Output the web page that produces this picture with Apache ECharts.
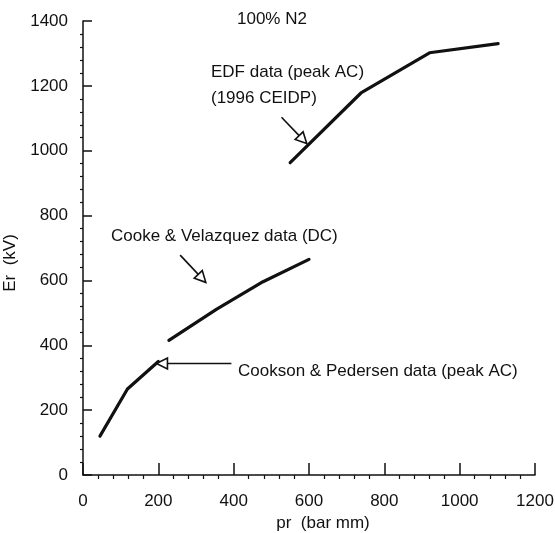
<!DOCTYPE html>
<html>
<head>
<meta charset="utf-8">
<script src="https://cdn.jsdelivr.net/npm/echarts@6/dist/echarts.min.js"></script>
<style>
  html, body { margin: 0; padding: 0; background: #fff; }
  #chart { width: 555px; height: 533px; }
</style>
</head>
<body>
<div id="chart"></div>
<script>
// Breakdown field Er versus pr in pure nitrogen, three data sources
const cooksonPedersen = [[45, 120], [118, 265], [200, 350]];
const cookeVelazquez = [[228, 415], [354, 511], [478, 596], [600, 665]];
const edfData = [[550, 963], [738, 1178], [920, 1302], [1102, 1330]];

const xTicks = { min: 0, max: 1200, interval: 200 };
const yTicks = { min: 0, max: 1400, interval: 200 };

// Arrow callouts in data units: [tail, tip]
const cooksonArrow = [[394, 344], [195, 344]];
const cookeArrow = [[258, 678], [326, 594]];
const edfArrow = [[527, 1103], [594, 1022]];

const FONT = 'Liberation Sans, Arial, Helvetica, sans-serif';
const INK = '#111';
const plain = v => String(v);

const chart = echarts.init(document.getElementById('chart'), null, { renderer: 'canvas' });

const lineSeries = (name, data) => ({
  name, type: 'line', data,
  xAxisIndex: 0, yAxisIndex: 0,
  symbol: 'none', smooth: false,
  lineStyle: { color: INK, width: 3.2, cap: 'round', join: 'round' },
  silent: true, animation: false
});

chart.setOption({
  animation: false,
  backgroundColor: '#fff',
  grid: { left: 83, right: 20, top: 21, bottom: 58, containLabel: false, outerBoundsMode: 'none' },
  xAxis: [
    {
      type: 'value', min: xTicks.min, max: xTicks.max, interval: xTicks.interval,
      name: 'pr  (bar mm)', nameLocation: 'middle', nameGap: 38,
      nameTextStyle: { fontFamily: FONT, fontSize: 17, color: INK, padding: [0, 0, 0, 28] },
      axisLine: { show: true, lineStyle: { color: INK, width: 1.5 } },
      axisTick: { show: true, inside: true, length: 12, lineStyle: { color: INK, width: 1.5 } },
      axisLabel: { fontFamily: FONT, fontSize: 17, color: INK, margin: 18, formatter: plain },
      splitLine: { show: false }
    },
    {
      type: 'value', min: xTicks.min, max: xTicks.max, interval: xTicks.interval,
      position: 'bottom',
      axisLine: { show: false },
      axisTick: { show: false },
      minorTick: { show: true, splitNumber: 5, length: 4, lineStyle: { color: INK, width: 1.2 } },
      axisLabel: { show: false },
      splitLine: { show: false }
    }
  ],
  yAxis: [
    {
      type: 'value', min: yTicks.min, max: yTicks.max, interval: yTicks.interval,
      name: 'Er  (kV)', nameLocation: 'middle', nameGap: 61, nameRotate: 90,
      nameTextStyle: { fontFamily: FONT, fontSize: 17, color: INK, padding: [0, 30, 0, 0] },
      axisLine: { show: true, lineStyle: { color: INK, width: 1.5 } },
      axisTick: { show: true, inside: true, length: 9, lineStyle: { color: INK, width: 1.5 } },
      axisLabel: { fontFamily: FONT, fontSize: 17, color: INK, margin: 15, formatter: plain },
      splitLine: { show: false }
    },
    {
      type: 'value', min: yTicks.min, max: yTicks.max, interval: yTicks.interval,
      position: 'left',
      axisLine: { show: false },
      axisTick: { show: false },
      minorTick: { show: true, splitNumber: 5, length: 3, lineStyle: { color: INK, width: 1.2 } },
      axisLabel: { show: false },
      splitLine: { show: false }
    }
  ],
  series: [
    lineSeries('Cookson & Pedersen', cooksonPedersen),
    lineSeries('Cooke & Velazquez', cookeVelazquez),
    lineSeries('EDF', edfData)
  ]
});

// Open-headed arrow from tail to tip, both given in data units
function arrow(pair) {
  const t = chart.convertToPixel({ seriesIndex: 0 }, pair[0]);
  const p = chart.convertToPixel({ seriesIndex: 0 }, pair[1]);
  const dx = p[0] - t[0], dy = p[1] - t[1];
  const len = Math.hypot(dx, dy);
  const ux = dx / len, uy = dy / len;
  const nx = -uy, ny = ux;
  const headLen = 11, halfW = 5.5;
  const bx = p[0] - ux * headLen, by = p[1] - uy * headLen;
  return [
    {
      type: 'line', silent: true,
      shape: { x1: t[0], y1: t[1], x2: bx, y2: by },
      style: { stroke: INK, lineWidth: 1.6 }
    },
    {
      type: 'polygon', silent: true,
      shape: { points: [[p[0], p[1]], [bx + nx * halfW, by + ny * halfW], [bx - nx * halfW, by - ny * halfW]] },
      style: { fill: '#fff', stroke: INK, lineWidth: 1.6, lineJoin: 'miter' }
    }
  ];
}

function label(text, x, y) {
  return {
    type: 'text', silent: true, left: x, top: y - 9,
    style: { text, fontFamily: FONT, fontSize: 17, fill: INK }
  };
}

chart.setOption({
  graphic: [
    label('100% N2', 237, 20),
    label('EDF data (peak AC)', 211, 73),
    label('(1996 CEIDP)', 211, 99),
    label('Cooke & Velazquez data (DC)', 111, 237),
    label('Cookson & Pedersen data (peak AC)', 238, 372),
    ...arrow(edfArrow),
    ...arrow(cookeArrow),
    ...arrow(cooksonArrow)
  ]
});
</script>
</body>
</html>
